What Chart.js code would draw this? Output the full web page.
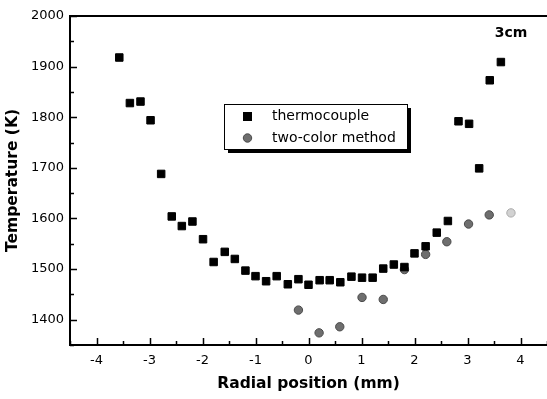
<!DOCTYPE html>
<html>
<head>
<meta charset="utf-8">
<script src="https://cdn.jsdelivr.net/npm/chart.js@4.4.1/dist/chart.umd.min.js"></script>
<style>
  html, body { margin: 0; padding: 0; background: #fff; }
  #wrap { width: 547px; height: 399px; }
</style>
</head>
<body>
<div id="wrap"><canvas id="tempChart" width="547" height="399"></canvas></div>
<script>
// Radial temperature profile, 3cm above the burner

// thermocouple readings
const thermoX = [-3.57, -3.37, -3.17, -2.98, -2.78, -2.58, -2.39, -2.19, -1.99, -1.79,
                 -1.58, -1.39, -1.19, -1.0, -0.8, -0.6, -0.39, -0.19, 0.0, 0.21,
                 0.4, 0.6, 0.81, 1.01, 1.21, 1.41, 1.61, 1.81, 2.0, 2.21,
                 2.42, 2.63, 2.83, 3.03, 3.22, 3.42, 3.63];
const thermoY = [1918, 1828, 1831, 1794, 1688, 1604, 1585, 1594, 1559, 1514,
                 1534, 1520, 1497, 1486, 1476, 1486, 1470, 1480, 1469, 1478,
                 1478, 1474, 1485, 1483, 1483, 1501, 1509, 1504, 1531, 1545,
                 1572, 1595, 1792, 1787, 1699, 1873, 1909];

// two-color pyrometry readings
const colorX = [-0.19, 0.2, 0.59, 1.01, 1.41, 1.81, 2.21, 2.61, 3.02, 3.41, 3.82];
const colorY = [1419, 1374, 1386, 1444, 1440, 1499, 1529, 1554, 1589, 1607, 1611];

const seriesNames = ['thermocouple', 'two-color method'];
const heightLabel = '3cm';

// axis ticks
const xTicks = [-4, -3, -2, -1, 0, 1, 2, 3, 4];
const xMinorTicks = [-4.5, -3.5, -2.5, -1.5, -0.5, 0.5, 1.5, 2.5, 3.5, 4.5];
const yTicks = [1400, 1500, 1600, 1700, 1800, 1900, 2000];
const yMinorTicks = [1350, 1450, 1550, 1650, 1750, 1850, 1950];

const FONT = 'DejaVu Sans';

function toPoints(xs, ys) {
  return xs.map((v, i) => ({ x: v, y: ys[i] }));
}

// top frame line plus inward tick marks on both axes
const frameAndTicks = {
  id: 'frameAndTicks',
  afterDraw(chart) {
    const { ctx, chartArea: a, scales: { x, y } } = chart;
    ctx.save();
    ctx.strokeStyle = '#000';
    ctx.lineWidth = 2;
    ctx.beginPath();
    ctx.moveTo(a.left, a.top);
    ctx.lineTo(a.right, a.top);
    ctx.stroke();

    ctx.lineWidth = 1.5;
    ctx.beginPath();
    xTicks.forEach(v => {
      const px = Math.round(x.getPixelForValue(v)) + 0.5;
      ctx.moveTo(px, a.bottom);
      ctx.lineTo(px, a.bottom - 7);
    });
    xMinorTicks.forEach(v => {
      const px = Math.round(x.getPixelForValue(v)) + 0.5;
      ctx.moveTo(px, a.bottom);
      ctx.lineTo(px, a.bottom - 4);
    });
    yTicks.forEach(v => {
      const py = Math.round(y.getPixelForValue(v)) + 0.5;
      ctx.moveTo(a.left, py);
      ctx.lineTo(a.left + 7, py);
    });
    yMinorTicks.forEach(v => {
      const py = Math.round(y.getPixelForValue(v)) + 0.5;
      ctx.moveTo(a.left, py);
      ctx.lineTo(a.left + 4, py);
    });
    ctx.stroke();
    ctx.restore();
  }
};

// boxed legend with drop shadow, and the height tag in the corner
const boxLegend = {
  id: 'boxLegend',
  afterDraw(chart) {
    const { ctx } = chart;
    const box = { x: 224, y: 104, w: 183, h: 45 };
    ctx.save();
    // shadow
    ctx.fillStyle = '#000';
    ctx.fillRect(box.x + 4, box.y + 4, box.w, box.h);
    ctx.fillStyle = '#fff';
    ctx.fillRect(box.x, box.y, box.w, box.h);
    ctx.strokeStyle = '#000';
    ctx.lineWidth = 1;
    ctx.strokeRect(box.x + 0.5, box.y + 0.5, box.w, box.h);

    const rows = [box.y + 12, box.y + 34];
    // square marker
    ctx.fillStyle = '#000';
    ctx.fillRect(243, rows[0] - 4, 9, 9);
    // circle marker
    ctx.beginPath();
    ctx.arc(247.5, rows[1], 4.2, 0, Math.PI * 2);
    ctx.fillStyle = '#6e6e6e';
    ctx.fill();
    ctx.strokeStyle = '#4a4a4a';
    ctx.stroke();

    ctx.fillStyle = '#000';
    ctx.font = `14px "${FONT}"`;
    ctx.textBaseline = 'middle';
    ctx.textAlign = 'left';
    ctx.fillText(seriesNames[0], 272, rows[0]);
    ctx.fillText(seriesNames[1], 272, rows[1]);

    ctx.font = `bold 14px "${FONT}"`;
    ctx.textAlign = 'center';
    ctx.fillText(heightLabel, 511, 33);
    ctx.restore();
  }
};

const chart = new Chart(document.getElementById('tempChart'), {
  type: 'scatter',
  data: {
    datasets: [
      {
        label: seriesNames[0],
        data: toPoints(thermoX, thermoY),
        pointStyle: 'rect',
        pointRadius: 5.3,
        pointBorderWidth: 1,
        backgroundColor: '#000',
        borderColor: '#000'
      },
      {
        label: seriesNames[1],
        data: toPoints(colorX, colorY),
        pointStyle: 'circle',
        pointRadius: 4.2,
        pointBorderWidth: 1,
        // outermost reading is printed much paler
        backgroundColor: c => c.dataIndex === colorX.length - 1 ? '#d2d2d2' : '#6e6e6e',
        borderColor: c => c.dataIndex === colorX.length - 1 ? '#aaaaaa' : '#4a4a4a'
      }
    ]
  },
  options: {
    responsive: false,
    animation: false,
    events: [],
    layout: {
      autoPadding: false,
      padding: { top: 16, right: 0, left: 0, bottom: 0 }
    },
    plugins: {
      legend: { display: false },
      tooltip: { enabled: false }
    },
    scales: {
      x: {
        type: 'linear',
        min: -4.5,
        max: 4.5,
        afterBuildTicks: s => { s.ticks = xTicks.map(v => ({ value: v })); },
        afterFit: s => {
          s.height = 54;
          // plot runs right up to the canvas edge
          s.paddingLeft = 0;
          s.paddingRight = 0;
        },
        grid: { display: false, drawTicks: false },
        border: { display: true, color: '#000', width: 2 },
        ticks: {
          color: '#000',
          font: { family: FONT, size: 13 },
          padding: 8,
          autoSkip: false,
          maxRotation: 0,
          callback: v => String(v)
        },
        title: {
          display: true,
          text: 'Radial position (mm)',
          color: '#000',
          font: { family: FONT, size: 15.5, weight: 'bold' },
          padding: { top: 0, bottom: 5.7 }
        }
      },
      y: {
        type: 'linear',
        min: 1350,
        max: 2000,
        afterBuildTicks: s => { s.ticks = yTicks.map(v => ({ value: v })); },
        afterFit: s => { s.width = 70; },
        grid: { display: false, drawTicks: false },
        border: { display: true, color: '#000', width: 2 },
        ticks: {
          color: '#000',
          font: { family: FONT, size: 13 },
          padding: 6,
          autoSkip: false,
          callback: v => String(v)
        },
        title: {
          display: true,
          text: 'Temperature (K)',
          color: '#000',
          font: { family: FONT, size: 15.5, weight: 'bold' },
          padding: { top: 4, bottom: 0 }
        }
      }
    }
  },
  plugins: [frameAndTicks, boxLegend]
});
</script>
</body>
</html>
